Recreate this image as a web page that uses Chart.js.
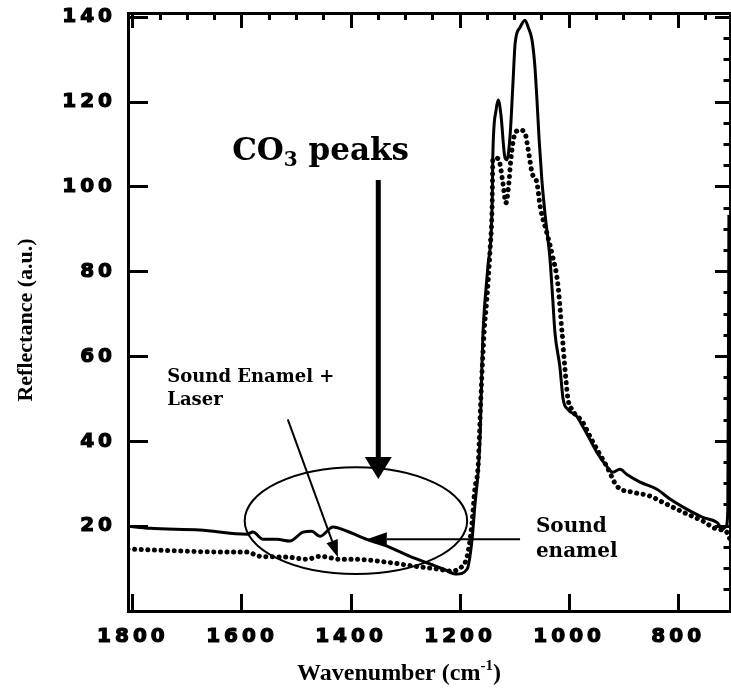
<!DOCTYPE html>
<html lang="en">
<head>
  <meta charset="UTF-8">
  <title>Reflectance spectra</title>
  <style>
    body {
      margin: 0;
      padding: 0;
      background-color: #fff;
    }
    #wrap {
      width: 731px;
      height: 688px;
    }
  </style>
</head>
<body>
  <div id="wrap"><canvas id="chart" width="731" height="688"></canvas></div>

  <script src="https://cdn.jsdelivr.net/npm/chart.js"></script>
  <script>
    // sound enamel (solid trace)
    const enamelWn = [1809, 1769, 1677, 1591, 1580, 1561, 1536, 1512, 1488, 1472, 1457, 1433, 1407, 1371, 1334,
      1292, 1255, 1231, 1206, 1187, 1178, 1173, 1167, 1163, 1160, 1158, 1149, 1141, 1140, 1134, 1130, 1125,
      1118, 1114, 1108, 1103, 1099, 1090, 1081, 1075, 1068, 1063, 1059, 1055, 1050, 1044, 1035, 1030, 1026,
      1017, 1011, 1002, 986, 975, 962, 949, 931, 920, 907, 894, 870, 839, 815, 791, 755, 729, 718, 712, 709, 707];
    const enamelVal = [20.0, 19.5, 19.1, 18.1, 18.6, 16.9, 16.9, 16.5, 18.6, 18.8, 17.6, 19.8, 18.8, 16.9, 15.3,
      12.9, 11.1, 9.9, 8.7, 9.9, 16.9, 24.7, 32.7, 42.1, 57.6, 65.6, 81.2, 96.9, 107.1, 118.1, 120.5, 116.9,
      107.1, 106.4, 112.7, 124.5, 133.9, 137.6, 139.3, 137.6, 134.6, 128.7, 120.5, 111.1, 101.6, 93.4, 82.8, 73.4, 65.6,
      57.6, 49.9, 47.5, 45.9, 43.5, 40.5, 37.4, 34.1, 32.7, 33.4, 32.2, 30.4, 28.7, 26.4, 24.5, 22.1, 20.9, 19.3, 20.0, 24.0, 93.4];

    // sound enamel + laser (dotted trace)
    const laserWn = [1809, 1701, 1640, 1591, 1567, 1517, 1481, 1457, 1420, 1396, 1334, 1286, 1242, 1213, 1204,
      1187, 1178, 1173, 1167, 1162, 1156, 1151, 1145, 1141, 1140, 1134, 1129, 1121, 1116, 1110, 1107, 1099,
      1090, 1081, 1075, 1068, 1059, 1053, 1041, 1030, 1021, 1013, 1008, 1002, 995, 975, 962, 949, 931, 912,
      883, 852, 828, 791, 755, 729, 711, 705];
    const laserVal = [14.6, 14.1, 13.9, 13.9, 12.9, 12.7, 12.2, 12.9, 12.2, 12.2, 11.5, 10.6, 9.9, 9.4, 9.9,
      12.9, 20.9, 28.7, 34.0, 49.9, 65.6, 73.4, 85.2, 96.9, 106.4, 106.8, 106.4, 100.5, 96.2, 101.6, 106.4, 112.7,
      113.4, 112.7, 108.7, 103.3, 100.9, 95.3, 89.2, 83.5, 77.4, 65.6, 57.6, 49.9, 47.5, 44.5, 41.2, 38.1, 34.1, 29.4,
      28.0, 27.1, 25.6, 23.3, 21.2, 19.3, 18.6, 16.9];

    const xLabelTicks = [1800, 1600, 1400, 1200, 1000, 800];
    const yLabelTicks = [20, 40, 60, 80, 100, 120, 140];

    // annotation anchors, in wavenumber / reflectance units
    const ring = { wn: 1391, val: 21.3, rWn: 204, rVal: 12.6 };
    const co3Arrow = { from: [1350, 101.6], to: [1350, 31.1] };
    const laserArrow = { from: [1516, 45.2], to: [1424, 12.7] };
    const enamelArrow = { from: [1090, 16.9], to: [1371, 16.9] };
    const co3Text = [1618, 106.4];
    const laserText = [1737, 54.1];
    const enamelText = [1061, 18.6];

    const tickFont = { family: "'DejaVu Sans'", size: 20, weight: 'bold' };

    function pairs(xs, ys) {
      return xs.map((w, i) => ({ x: w, y: ys[i] }));
    }

    // major ticks full length, minor ticks shortened with a dash pattern
    function tickDash(majorEvery, pattern) {
      return (ctx) => (ctx.tick && ctx.tick.value % majorEvery === 0) ? [] : pattern;
    }

    // keep the frame exactly where the layout padding puts it
    function fixSize(prop, size) {
      return (s) => {
        s[prop] = size;
        s.paddingTop = 0;
        s.paddingBottom = 0;
        s.paddingLeft = 0;
        s.paddingRight = 0;
      };
    }

    const spacedTicks = {
      id: 'spacedTicks',
      beforeDraw(chart) { chart.ctx.letterSpacing = '4px'; },
      beforeDatasetsDraw(chart) { chart.ctx.letterSpacing = '0px'; }
    };

    function arrow(ctx, x0, y0, x1, y1, width, headLen, headW) {
      const a = Math.atan2(y1 - y0, x1 - x0);
      const bx = x1 - Math.cos(a) * headLen;
      const by = y1 - Math.sin(a) * headLen;
      ctx.lineWidth = width;
      ctx.beginPath();
      ctx.moveTo(x0, y0);
      ctx.lineTo(bx, by);
      ctx.stroke();
      ctx.beginPath();
      ctx.moveTo(x1, y1);
      ctx.lineTo(bx + Math.sin(a) * headW / 2, by - Math.cos(a) * headW / 2);
      ctx.lineTo(bx - Math.sin(a) * headW / 2, by + Math.cos(a) * headW / 2);
      ctx.closePath();
      ctx.fill();
    }

    const notes = {
      id: 'notes',
      afterDraw(chart) {
        const { ctx, scales: { x, y } } = chart;
        const px = (w) => x.getPixelForValue(w);
        const py = (v) => y.getPixelForValue(v);
        ctx.save();
        ctx.letterSpacing = '0px';
        ctx.strokeStyle = '#000';
        ctx.fillStyle = '#000';

        ctx.lineWidth = 2;
        ctx.beginPath();
        ctx.ellipse(px(ring.wn), py(ring.val),
          Math.abs(px(ring.wn + ring.rWn) - px(ring.wn)),
          Math.abs(py(ring.val + ring.rVal) - py(ring.val)), 0, 0, Math.PI * 2);
        ctx.stroke();

        arrow(ctx, px(co3Arrow.from[0]), py(co3Arrow.from[1]), px(co3Arrow.to[0]), py(co3Arrow.to[1]), 5, 22, 27);
        arrow(ctx, px(laserArrow.from[0]), py(laserArrow.from[1]), px(laserArrow.to[0]), py(laserArrow.to[1]), 2, 17, 12);
        arrow(ctx, px(enamelArrow.from[0]), py(enamelArrow.from[1]), px(enamelArrow.to[0]), py(enamelArrow.to[1]), 2, 20, 14);

        ctx.textBaseline = 'alphabetic';
        ctx.textAlign = 'left';

        // CO3 peaks
        let tx = px(co3Text[0]);
        const ty = py(co3Text[1]);
        ctx.font = "bold 31px 'DejaVu Serif'";
        ctx.fillText('CO', tx, ty);
        tx += ctx.measureText('CO').width;
        ctx.font = "bold 20px 'DejaVu Serif'";
        ctx.fillText('3', tx, ty + 6);
        tx += ctx.measureText('3').width;
        ctx.font = "bold 31px 'DejaVu Serif'";
        ctx.fillText(' peaks', tx, ty);

        ctx.font = "bold 18px 'DejaVu Serif'";
        ctx.fillText('Sound Enamel +', px(laserText[0]), py(laserText[1]));
        ctx.fillText('Laser', px(laserText[0]), py(laserText[1]) + 23);

        ctx.font = "bold 20px 'DejaVu Serif'";
        ctx.fillText('Sound', px(enamelText[0]), py(enamelText[1]));
        ctx.fillText('enamel', px(enamelText[0]), py(enamelText[1]) + 25);

        // axis titles
        const t1 = 'Wavenumber (cm';
        const t2 = ')';
        ctx.font = "bold 24px 'Liberation Serif'";
        const w1 = ctx.measureText(t1).width;
        const w2 = ctx.measureText(t2).width;
        ctx.font = "bold 15px 'Liberation Serif'";
        const ws = ctx.measureText('-1').width;
        let ax = 399 - (w1 + ws + w2) / 2;
        ctx.font = "bold 24px 'Liberation Serif'";
        ctx.fillText(t1, ax, 680);
        ax += w1;
        ctx.font = "bold 15px 'Liberation Serif'";
        ctx.fillText('-1', ax, 670);
        ax += ws;
        ctx.font = "bold 24px 'Liberation Serif'";
        ctx.fillText(t2, ax, 680);

        ctx.translate(26, 320);
        ctx.rotate(-Math.PI / 2);
        ctx.textAlign = 'center';
        ctx.textBaseline = 'middle';
        ctx.font = "bold 22px 'Liberation Serif'";
        ctx.fillText('Reflectance (a.u.)', 0, 0);
        ctx.restore();
      }
    };

    const border = { display: true, width: 3, color: '#000' };

    new Chart(document.getElementById('chart'), {
      type: 'line',
      data: {
        datasets: [
          {
            label: 'Sound Enamel + Laser',
            data: pairs(laserWn, laserVal),
            borderColor: '#000',
            borderWidth: 5,
            borderDash: [0.1, 6.5],
            borderCapStyle: 'round',
            pointRadius: 0,
            cubicInterpolationMode: 'monotone',
            fill: false
          },
          {
            label: 'Sound enamel',
            data: pairs(enamelWn, enamelVal),
            borderColor: '#000',
            borderWidth: 3,
            pointRadius: 0,
            cubicInterpolationMode: 'monotone',
            fill: false
          }
        ]
      },
      options: {
        responsive: false,
        animation: false,
        layout: { padding: { top: 13, right: 1, left: 0, bottom: 0 } },
        plugins: {
          legend: { display: false },
          tooltip: { enabled: false }
        },
        scales: {
          x: {
            type: 'linear',
            position: 'bottom',
            reverse: true,
            min: 705,
            max: 1809,
            weight: 1,
            border: border,
            grid: {
              drawOnChartArea: false,
              drawTicks: true,
              tickLength: -17,
              tickWidth: 3,
              tickColor: '#000',
              tickBorderDash: tickDash(200, [9.5, 100])
            },
            ticks: {
              stepSize: 50,
              includeBounds: false,
              autoSkip: false,
              maxRotation: 0,
              padding: 31,
              color: '#000',
              textStrokeColor: '#000',
              textStrokeWidth: 1.2,
              font: tickFont,
              callback: (v) => xLabelTicks.includes(v) ? String(v) : null
            },
            afterFit: fixSize('height', 77)
          },
          xTop: {
            type: 'linear',
            position: 'top',
            reverse: true,
            min: 705,
            max: 1809,
            border: border,
            grid: {
              drawOnChartArea: false,
              drawTicks: true,
              tickLength: -15,
              tickWidth: 3,
              tickColor: '#000',
              tickBorderDash: tickDash(200, [0, 8, 9, 100])
            },
            ticks: { stepSize: 50, includeBounds: false, autoSkip: false, display: false },
            afterFit: fixSize('height', 0)
          },
          y: {
            type: 'linear',
            position: 'left',
            min: 0,
            max: 141,
            border: border,
            grid: {
              drawOnChartArea: false,
              drawTicks: true,
              tickLength: -20,
              tickWidth: 3,
              tickColor: '#000',
              tickBorderDash: tickDash(20, [0, 12, 10, 100])
            },
            ticks: {
              stepSize: 5,
              includeBounds: false,
              autoSkip: false,
              padding: 32,
              color: '#000',
              textStrokeColor: '#000',
              textStrokeWidth: 1.2,
              font: tickFont,
              callback: (v) => yLabelTicks.includes(v) ? String(v) : null
            },
            afterFit: fixSize('width', 128)
          },
          yRight: {
            type: 'linear',
            position: 'right',
            min: 0,
            max: 141,
            border: border,
            grid: {
              drawOnChartArea: false,
              drawTicks: true,
              tickLength: -15,
              tickWidth: 3,
              tickColor: '#000',
              tickBorderDash: tickDash(20, [8.5, 100])
            },
            ticks: { stepSize: 5, includeBounds: false, autoSkip: false, display: false },
            afterFit: fixSize('width', 0)
          }
        }
      },
      plugins: [spacedTicks, notes]
    });
  </script>
</body>
</html>
